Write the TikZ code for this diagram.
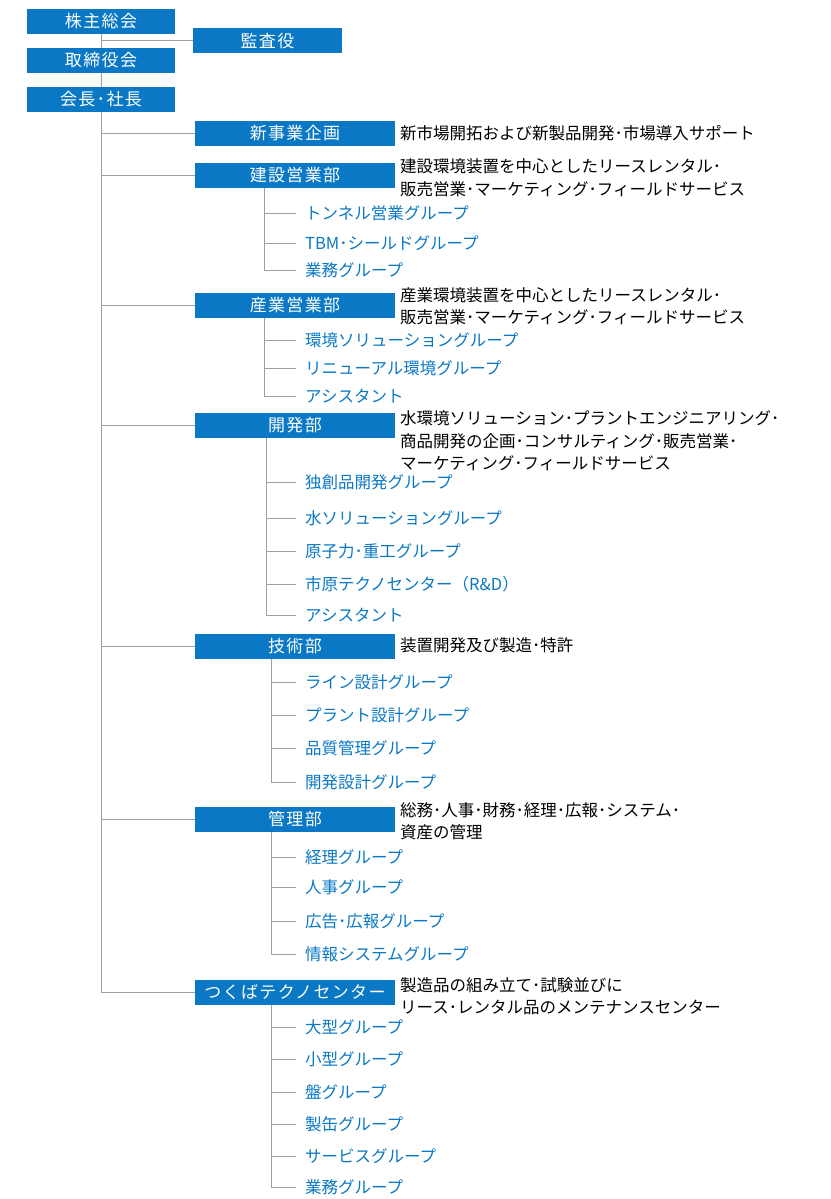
\documentclass[tikz,border=0pt]{standalone}
\usepackage{fontspec}
\setmainfont{Noto Sans CJK JP}
\newfontfamily\boxfont[LetterSpace=8]{Noto Sans CJK JP}
\begin{document}
\begin{tikzpicture}[x=1pt,y=-1pt,
 bx/.style={fill=boxblue,text=white,minimum height=25pt,inner sep=0pt,font=\boxfont\fontsize{17}{18}\selectfont},
 top/.style={bx,minimum width=148pt},
 dept/.style={bx,minimum width=200pt},
 sub/.style={anchor=west,text=boxblue,inner sep=0pt,font=\fontsize{16.5}{17}\selectfont},
 desc/.style={anchor=west,inner sep=0pt,align=left,font=\fontsize{16.5}{22.5}\selectfont},
 ln/.style={draw=gray!75,line width=1pt}]
\definecolor{boxblue}{HTML}{0A78C4}
\useasboundingbox (0,0) rectangle (830,1199);
\node[top] (kabu) at (101,21.5) {株主総会};
\node[top] (tori) at (101,60.5) {取締役会};
\node[top] (kai) at (101,99.5) {会長･社長};
\node[top,minimum width=149pt] (kan) at (267.5,41) {監査役};
\draw[ln] (kabu.south) -- (tori.north);
\draw[ln] (tori.south) -- (kai.north);
\draw[ln] (101,41) -- (kan.west);
\coordinate (tend) at (101,992);
\draw[ln] (kai.south) -- (tend);
% departments
\foreach \n/\y/\t in {d1/133/新事業企画,d2/175/建設営業部,d3/305/産業営業部,d4/425/開発部,d5/646/技術部,d6/819/管理部,d7/992/つくばテクノセンター}{
 \node[dept] (\n) at (295,\y) {\t};
 \coordinate (\n t) at (101,\y);
 \draw[ln] (\n t) -- (\n.west);
}
\node[desc] (e1) at (400,133) {新市場開拓および新製品開発･市場導入サポート};
\node[desc] (e2) at (400,178) {建設環境装置を中心としたリースレンタル･\\販売営業･マーケティング･フィールドサービス};
\node[desc] (e3) at (400,306) {産業環境装置を中心としたリースレンタル･\\販売営業･マーケティング･フィールドサービス};
\node[desc] (e4) at (400,441) {水環境ソリューション･プラントエンジニアリング･\\商品開発の企画･コンサルティング･販売営業･\\マーケティング･フィールドサービス};
\node[desc] (e5) at (400,645) {装置開発及び製造･特許};
\node[desc] (e6) at (400,821) {総務･人事･財務･経理･広報･システム･\\資産の管理};
\node[desc] (e7) at (400,996) {製造品の組み立て･試験並びに\\リース･レンタル品のメンテナンスセンター};
% sub groups
\newcommand{\subs}[3]{% dept, x, list
 \foreach \y/\t [count=\i] in {#3}{
  \node[sub] (#1s\i) at (305,\y) {\t};
  \coordinate (#1c\i) at (#2,\y);
  \draw[ln] (#1c\i) -- (296,\y);
  \xdef\lasty{\y}
 }
 \coordinate (#1top) at (#2,0);
 \draw[ln] (#1.south -| #1top) -- (#2,\lasty);
}
\subs{d2}{264}{213/トンネル営業グループ,243/TBM･シールドグループ,270/業務グループ}
\subs{d3}{264}{340/環境ソリューショングループ,368/リニューアル環境グループ,396/アシスタント}
\subs{d4}{266}{482/独創品開発グループ,518/水ソリューショングループ,551/原子力･重工グループ,584/市原テクノセンター（R\&D）,615/アシスタント}
\subs{d5}{271}{682/ライン設計グループ,715/プラント設計グループ,748/品質管理グループ,782/開発設計グループ}
\subs{d6}{271}{857/経理グループ,887/人事グループ,921/広告･広報グループ,954/情報システムグループ}
\subs{d7}{271}{1027/大型グループ,1059/小型グループ,1092/盤グループ,1124/製缶グループ,1156/サービスグループ,1187/業務グループ}
\end{tikzpicture}
\end{document}
